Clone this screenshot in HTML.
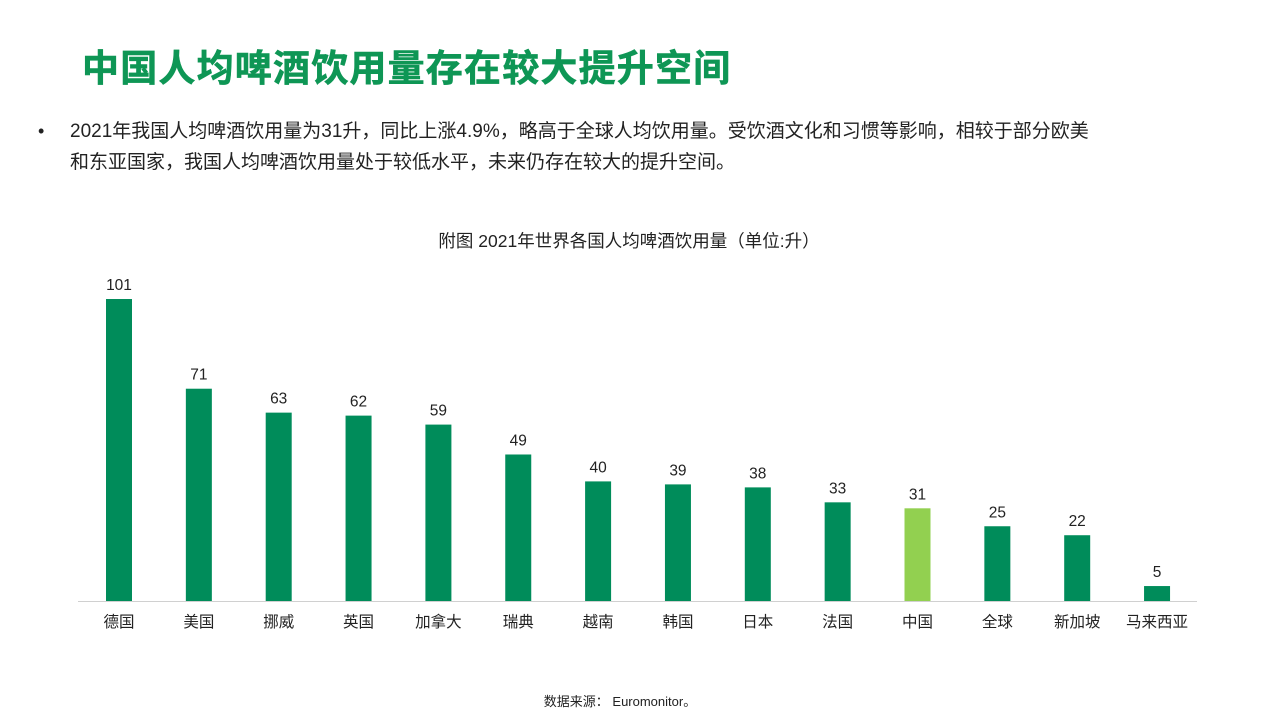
<!DOCTYPE html>
<html><head><meta charset="utf-8"><style>
body{margin:0;width:1280px;height:720px;background:#fff;overflow:hidden;font-family:"Liberation Sans","Noto Sans CJK SC",sans-serif;position:relative;color:#222}
#title{position:absolute;left:82px;top:38px;font-size:37px;font-weight:bold;color:#0e9655;letter-spacing:1.2px;-webkit-text-stroke:0.6px #0e9655}
#bullet{position:absolute;left:70px;top:116px;width:1200px;font-size:19px;line-height:31px;color:#222;white-space:nowrap}
#dot{position:absolute;left:38px;top:116px;font-size:18px;line-height:31px}
#src{position:absolute;left:0;width:1240px;text-align:center;top:691px;font-size:13px;color:#222}
</style></head><body>
<div id="title">中国人均啤酒饮用量存在较大提升空间</div>
<div id="dot">•</div>
<div id="bullet">2021年我国人均啤酒饮用量为31升，同比上涨4.9%，略高于全球人均饮用量。受饮酒文化和习惯等影响，相较于部分欧美<br>和东亚国家，我国人均啤酒饮用量处于较低水平，未来仍存在较大的提升空间。</div>
<svg id="chart" width="1280" height="720" style="position:absolute;left:0;top:0">
<text x="629" y="247" text-anchor="middle" font-size="17.5" fill="#222">附图 2021年世界各国人均啤酒饮用量（单位:升）</text>
<line x1="78" y1="601.5" x2="1197" y2="601.5" stroke="#d0d0d0" stroke-width="1"/>
<g id="bars"></g>
</svg>
<div id="src">数据来源： Euromonitor。</div>
<script>
const categories=["德国","美国","挪威","英国","加拿大","瑞典","越南","韩国","日本","法国","中国","全球","新加坡","马来西亚"];
const values=[101,71,63,62,59,49,40,39,38,33,31,25,22,5];
const highlight="中国";
const x0=119,step=79.85,base=601,scale=2.99,bw=26;
const xs=i=>x0+i*step, ys=v=>base-v*scale;
const g=document.getElementById('bars');
const NS="http://www.w3.org/2000/svg";
categories.forEach((c,i)=>{
  const v=values[i];
  const r=document.createElementNS(NS,'rect');
  
  
  r.setAttribute('x',xs(i)-bw/2);r.setAttribute('y',ys(v));
  r.setAttribute('width',bw);r.setAttribute('height',base-ys(v));
  r.setAttribute('fill',c===highlight?'#92d050':'#008c5a');
  g.appendChild(r);
  const t=document.createElementNS(NS,'text');
  
  
  t.setAttribute('x',xs(i));t.setAttribute('y',ys(v)-9);
  t.setAttribute('text-anchor','middle');t.setAttribute('font-size','15.5');t.setAttribute('fill','#222');
  t.textContent=v;g.appendChild(t);
  const l=document.createElementNS(NS,'text');
  
  
  l.setAttribute('x',xs(i));l.setAttribute('y',627);
  l.setAttribute('text-anchor','middle');l.setAttribute('font-size','15.5');l.setAttribute('fill','#222');
  l.textContent=c;g.appendChild(l);
});
</script>
</body></html>
